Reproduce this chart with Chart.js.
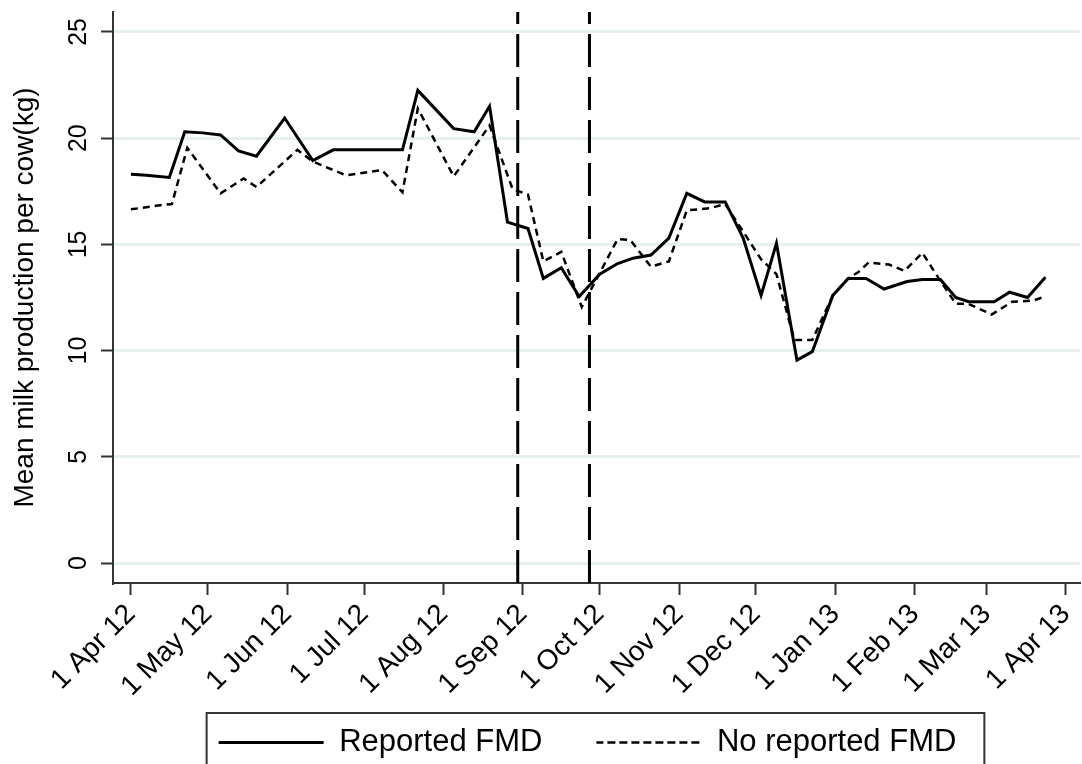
<!DOCTYPE html>
<html>
<head>
<meta charset="utf-8">
<title>Mean milk production per cow</title>
<script src="https://cdn.jsdelivr.net/npm/chart.js@4.4.1/dist/chart.umd.min.js"></script>
<style>
    html, body { margin: 0; padding: 0; background: #fff; }
    #wrap { width: 1082px; height: 764px; overflow: hidden; }
</style>
</head>
<body>
<div id="wrap"><canvas id="milkChart" width="1082" height="764"></canvas></div>
<script>
// days since 1 Apr 2012
const reportedDays = [0, 6, 15, 21, 28, 35, 42, 49, 60, 71, 79, 106, 112, 126, 134, 140, 147, 155, 161, 168,
    175, 183, 190, 196, 203, 210, 217, 224, 232, 239, 246, 252, 260, 266, 274, 280, 287, 294, 303, 309,
    316, 322, 327, 337, 343, 350, 357];
const reportedMilk = [18.3, 18.25, 18.15, 20.3, 20.25, 20.15, 19.4, 19.15, 20.95, 18.95, 19.45, 19.45, 22.25, 20.45, 20.3, 21.5, 16.05, 15.75, 13.4, 13.9,
    12.55, 13.6, 14.1, 14.35, 14.5, 15.3, 17.4, 17.0, 17.0, 15.3, 12.6, 15.05, 9.55, 9.95, 12.6, 13.4, 13.4, 12.9, 13.25, 13.35,
    13.35, 12.5, 12.3, 12.3, 12.75, 12.5, 13.45];

const noReportedDays = [0, 12, 16, 22, 35, 44, 49, 65, 71, 84, 98, 106, 112, 126, 140, 149, 155, 161, 168, 176,
    190, 195, 203, 210, 217, 226, 232, 246, 252, 259, 266, 274, 280, 284, 288, 296, 302, 309, 314, 322,
    327, 336, 344, 352, 357];
const noReportedMilk = [16.65, 16.85, 16.9, 19.55, 17.4, 18.1, 17.7, 19.45, 18.9, 18.25, 18.5, 17.45, 21.4, 18.2, 20.6, 17.6, 17.35, 14.2, 14.65, 12.05,
    15.25, 15.2, 13.95, 14.2, 16.6, 16.7, 16.9, 14.3, 13.6, 10.5, 10.5, 12.6, 13.4, 13.7, 14.15, 14.05, 13.75, 14.6, 13.65, 12.2,
    12.2, 11.7, 12.3, 12.35, 12.55];

// vertical dashed markers (30 Aug 12, 27 Sep 12)
const eventDays = [151, 179];

const tickDays = [0, 30, 61, 91, 122, 153, 183, 214, 244, 275, 306, 334, 365];
const tickLabels = ['1 Apr 12', '1 May 12', '1 Jun 12', '1 Jul 12', '1 Aug 12', '1 Sep 12', '1 Oct 12',
    '1 Nov 12', '1 Dec 12', '1 Jan 13', '1 Feb 13', '1 Mar 13', '1 Apr 13'];
const yTicks = [0, 5, 10, 15, 20, 25];

const FONT = "'Liberation Sans', Arial, sans-serif";
const yMin = -0.94, yMax = 25.94;
const xMin = -7, xMax = 370.5;

Chart.defaults.font.family = FONT;
Chart.defaults.color = '#000';

const toPoints = (days, vals) => days.map((d, i) => ({ x: d, y: vals[i] }));

// Stata-ish extras: rotated y labels and the legend frame
const stataBits = {
    id: 'stataBits',
    afterLayout(chart) {
        chart.legend.left -= 9;
        chart.legend.right -= 9;
        // let the rotated month labels run past the squeezed x box
        chart.scales.x.bottom = chart.height;
    },
    afterDraw(chart) {
        const ctx = chart.ctx;
        const y = chart.scales.y;
        ctx.save();
        ctx.fillStyle = '#000';
        ctx.font = '25px ' + FONT;
        ctx.textAlign = 'center';
        ctx.textBaseline = 'alphabetic';
        yTicks.forEach(v => {
            ctx.save();
            ctx.translate(y.right - 27, y.getPixelForValue(v));
            ctx.rotate(-Math.PI / 2);
            ctx.fillText(String(v), 0, 0);
            ctx.restore();
        });

        const hb = chart.legend.legendHitBoxes;
        if (hb && hb.length) {
            const last = hb[hb.length - 1];
            const left = hb[0].left - 12;
            const right = last.left + last.width + 28;
            const top = hb[0].top - 14;
            ctx.strokeStyle = '#333';
            ctx.lineWidth = 2;
            ctx.strokeRect(left, top, right - left, 120);
        }
        ctx.restore();
    }
};

const eventSets = eventDays.map(d => ({
    label: '',
    data: [{ x: d, y: yMin }, { x: d, y: yMax }],
    borderColor: '#000',
    borderWidth: 3,
    borderDash: [33, 10],
    pointRadius: 0
}));

new Chart(document.getElementById('milkChart'), {
    type: 'line',
    data: {
        datasets: [
            {
                label: 'Reported FMD',
                data: toPoints(reportedDays, reportedMilk),
                borderColor: '#000',
                backgroundColor: 'rgba(0,0,0,0)',
                borderWidth: 3,
                pointRadius: 0,
                tension: 0
            },
            {
                label: 'No reported FMD',
                data: toPoints(noReportedDays, noReportedMilk),
                borderColor: '#000',
                backgroundColor: 'rgba(0,0,0,0)',
                borderWidth: 2.5,
                borderDash: [7, 5],
                pointRadius: 0,
                tension: 0
            },
            ...eventSets
        ]
    },
    options: {
        responsive: false,
        animation: false,
        layout: { padding: { top: 12, right: 2, bottom: -4, left: 0 } },
        scales: {
            x: {
                type: 'linear',
                min: xMin,
                max: xMax,
                afterBuildTicks: s => { s.ticks = tickDays.map(v => ({ value: v })); },
                afterFit: s => { s.height = 90; s.paddingLeft = 0; s.paddingRight = 0; },
                ticks: {
                    autoSkip: false,
                    minRotation: 45,
                    maxRotation: 45,
                    padding: 3,
                    color: '#000',
                    font: { size: 28 },
                    callback: v => tickLabels[tickDays.indexOf(v)]
                },
                grid: { display: true, drawOnChartArea: false, drawTicks: true, tickLength: 12, tickColor: '#333', tickWidth: 2 },
                border: { display: true, color: '#333', width: 2 }
            },
            y: {
                min: yMin,
                max: yMax,
                afterBuildTicks: s => { s.ticks = yTicks.map(v => ({ value: v })); },
                afterFit: s => { s.width = 113; },
                ticks: { display: false },
                grid: { color: '#e8eff1', lineWidth: 3, tickColor: '#333', tickWidth: 2, tickLength: 12 },
                border: { color: '#333', width: 2 },
                title: {
                    display: true,
                    text: 'Mean milk production per cow(kg)',
                    color: '#000',
                    font: { size: 28 },
                    padding: { top: 8, bottom: 0 }
                }
            }
        },
        plugins: {
            tooltip: { enabled: false },
            legend: {
                position: 'bottom',
                fullSize: false,
                labels: {
                    boxWidth: 105,
                    boxHeight: 0,
                    padding: 54,
                    color: '#000',
                    font: { size: 31 },
                    filter: item => item.text !== ''
                }
            }
        }
    },
    plugins: [stataBits]
});
</script>
</body>
</html>
